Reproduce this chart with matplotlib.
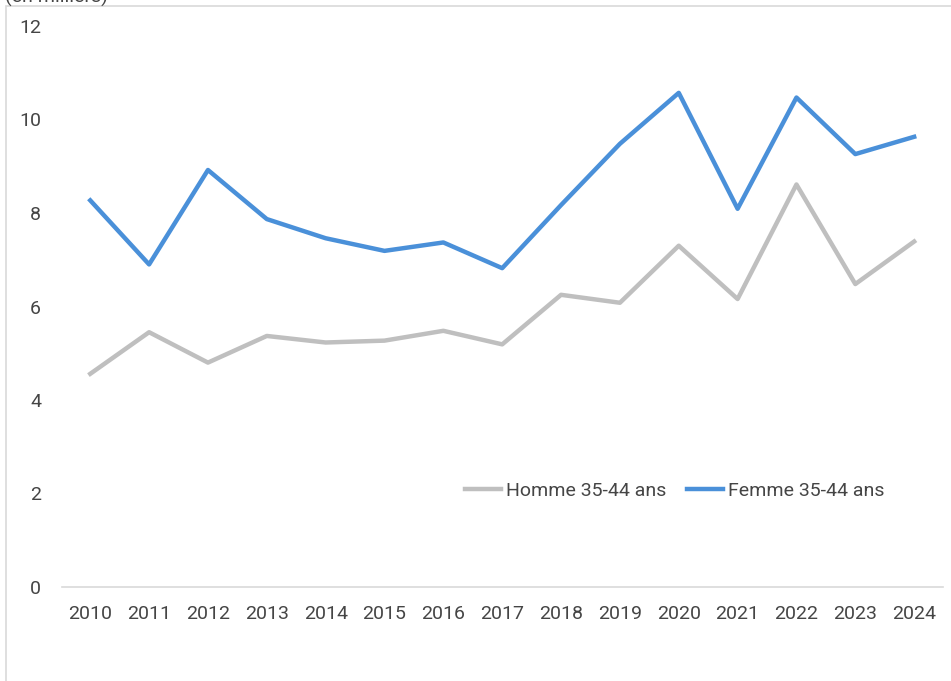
import matplotlib
matplotlib.use("Agg")
import matplotlib.pyplot as plt
from matplotlib.patches import Rectangle

years = [2010, 2011, 2012, 2013, 2014, 2015, 2016, 2017, 2018, 2019, 2020, 2021, 2022, 2023, 2024]
homme = [4.56, 5.45, 4.80, 5.37, 5.23, 5.27, 5.48, 5.19, 6.25, 6.08, 7.30, 6.16, 8.61, 6.48, 7.39]
femme = [8.27, 6.90, 8.92, 7.87, 7.46, 7.19, 7.37, 6.82, 8.17, 9.48, 10.57, 8.09, 10.47, 9.26, 9.63]
labels = ["Homme 35-44 ans", "Femme 35-44 ans"]
yticks = [0, 2, 4, 6, 8, 10, 12]

plt.rcParams['font.family'] = ['Roboto', 'DejaVu Sans']
W, H = 951, 681
fig = plt.figure(figsize=(W / 100, H / 100), dpi=100)
fig.patch.set_facecolor('white')

tc = '#454545'
# outer border (partially cropped)
fig.add_artist(Rectangle((6 / W, -0.1), 1.2, 1 - 6 / H + 0.1, transform=fig.transFigure,
                         fill=False, edgecolor='#D9D9D9', linewidth=1.2))
fig.text(5 / W, 1 - 3 / H, "(en milliers)", fontsize=14, color=tc,
         va='baseline', ha='left')

ax = fig.add_axes([62 / W, 1 - 587 / H, (943 - 62) / W, (587 - 26) / H])
ax.plot(years, homme, color='#BFBFBF', linewidth=3.2, label=labels[0], solid_joinstyle='round')
ax.plot(years, femme, color='#4A90D9', linewidth=3.2, label=labels[1], solid_joinstyle='round')

ax.set_xlim(2009.52, 2024.49)
ax.set_ylim(0, 12)
ax.set_yticks(yticks)
ax.set_xticks(years)
ax.set_xticklabels([str(y) for y in years])
for s in ['top', 'right', 'left']:
    ax.spines[s].set_visible(False)
ax.spines['bottom'].set_color('#D9D9D9')
ax.spines['bottom'].set_linewidth(1.2)
ax.tick_params(axis='both', length=0, colors=tc, labelsize=14)
ax.tick_params(axis='x', pad=13)
ax.tick_params(axis='y', pad=15)

leg = ax.legend(loc='center', bbox_to_anchor=((675 - 62) / (943 - 62), (587 - 491) / (587 - 26)),
                ncol=2, frameon=False, fontsize=14, handlelength=1.85, handletextpad=0.26,
                columnspacing=1.08, labelcolor=tc)

fig.savefig('out.png', dpi=100, facecolor='white')
